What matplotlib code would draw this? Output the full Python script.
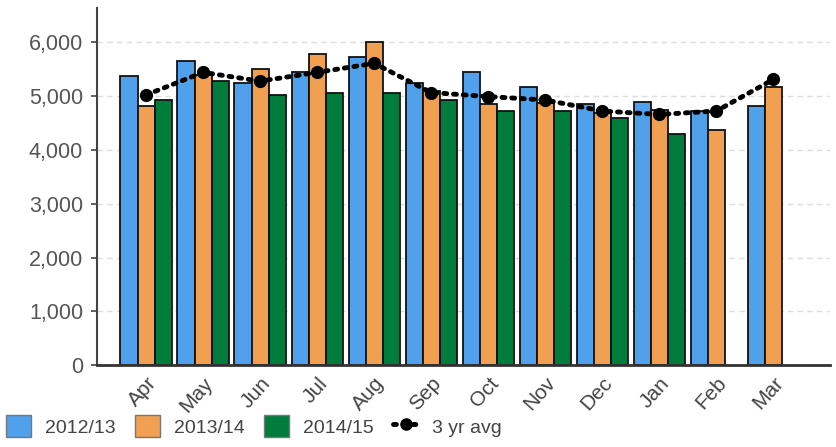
import matplotlib.pyplot as plt
from matplotlib.lines import Line2D
from matplotlib.patches import Patch
from matplotlib.ticker import FuncFormatter
import numpy as np

plt.rcParams['font.family'] = ['Liberation Sans', 'DejaVu Sans']

meses = ['Apr', 'May', 'Jun', 'Jul', 'Aug', 'Sep', 'Oct', 'Nov', 'Dec', 'Jan', 'Feb', 'Mar']
y2012 = [5375, 5656, 5244, 5456, 5725, 5250, 5450, 5169, 4856, 4900, 4725, 4825]
y2013 = [4825, 5400, 5512, 5794, 6000, 5100, 4856, 4881, 4681, 4750, 4375, 5175]
y2014 = [4930, 5275, 5031, 5062, 5062, 4931, 4725, 4725, 4588, 4306, np.nan, np.nan]
avg3 = [5025, 5444, 5281, 5444, 5612, 5069, 4994, 4931, 4725, 4662, 4725, 5312]

series = ['2012/13', '2013/14', '2014/15']
colores = ['#50a0eb', '#f0a050', '#007d3c']

fig = plt.figure(figsize=(8.37, 4.47), dpi=100)
ax = fig.add_axes([0.116, 0.183, 0.876, 0.799])

x = np.arange(len(meses))
w = 0.3
for i, (vals, c) in enumerate(zip([y2012, y2013, y2014], colores)):
    ax.bar(x + (i - 1) * w, vals, w, color=c, edgecolor='#111111', linewidth=1.3, zorder=2)

ax.plot(x, avg3, color='black', linestyle=(0, (0.6, 1.4)), linewidth=3.5,
        dash_capstyle='round', marker='o', markersize=8.5, zorder=3)

ax.set_xlim(-0.86, 12.0)
ax.set_ylim(0, 6640)
ax.set_yticks(range(0, 7000, 1000))
ax.yaxis.set_major_formatter(FuncFormatter(lambda v, p: '{:,.0f}'.format(v)))
ax.set_xticks(x)
ax.set_xticklabels(meses, rotation=48, ha='right', rotation_mode='anchor')
ax.tick_params(axis='x', length=0, pad=6, labelsize=15, labelcolor='#444444')
for lbl in ax.get_xticklabels():
    lbl.set_x(lbl.get_position()[0])
ax.tick_params(axis='y', length=4, width=1.2, color='#444444', labelsize=15.5, labelcolor='#555555', pad=6)
ax.grid(axis='y', linestyle=(0, (4, 3)), color='#dddddd', linewidth=1, zorder=0)

for s in ['top', 'right']:
    ax.spines[s].set_visible(False)
ax.spines['left'].set_color('#444444')
ax.spines['left'].set_linewidth(1.5)
ax.spines['bottom'].set_color('#333333')
ax.spines['bottom'].set_linewidth(2)

handles = [Patch(facecolor=c, edgecolor='#777777', linewidth=1) for c in colores]
handles.append(Line2D([], [], color='black', linestyle=(0, (0.6, 1.4)), linewidth=3.5,
                      dash_capstyle='round', marker='o', markersize=8))
leg = fig.legend(handles, series + ['3 yr avg'], loc='center left', bbox_to_anchor=(0.0, 0.047),
                 ncol=4, frameon=False, fontsize=14, handlelength=1.3, handleheight=1.3,
                 handletextpad=0.7, columnspacing=1.0, borderaxespad=0, borderpad=0.3)
for t in leg.get_texts():
    t.set_color('#444444')

plt.savefig('out.png', dpi=100)
